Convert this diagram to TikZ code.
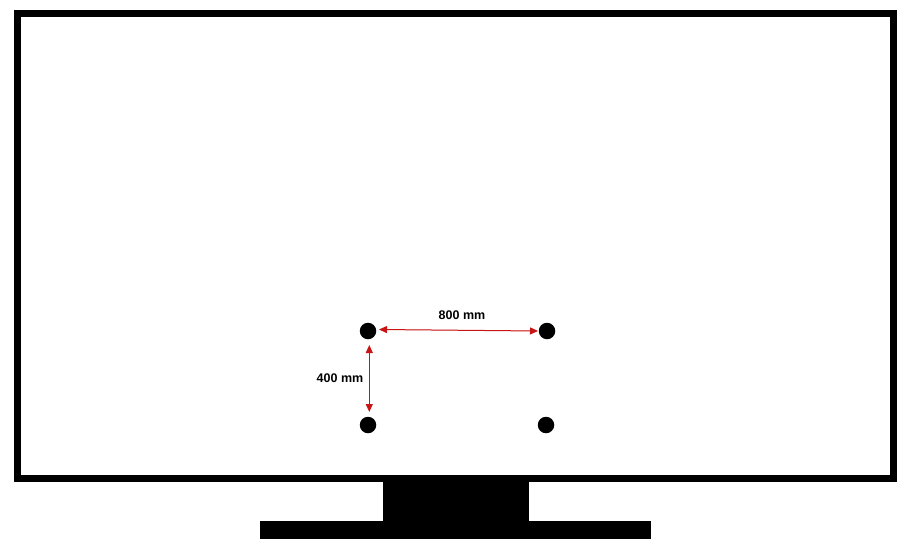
\documentclass[tikz,border=0pt]{standalone}
\usepackage{fontspec}
\setmainfont{Liberation Sans}
\usetikzlibrary{arrows.meta}
\definecolor{dimred}{RGB}{200,20,20}
\begin{document}
\begin{tikzpicture}[x=1pt,y=-1pt,
  hole/.style={circle,fill=black,inner sep=0pt,minimum size=16.5pt},
  dimline/.style={draw=dimred,line width=1pt,{Triangle[length=8pt,width=7pt]}-{Triangle[length=8pt,width=7pt]},fill=dimred},
  dimlabel/.style={font=\fontsize{12.5}{14}\selectfont\bfseries,inner sep=0pt}]
\useasboundingbox (0,0) rectangle (912,549);
% screen frame
\draw[line width=7pt] (17.5,13.5) rectangle (893,478.5);
% stand
\fill (383.3,482) rectangle (528.7,521.5);
\fill (260,521) rectangle (651,538.7);
% holes
\node[hole] (tl) at (368,331) {};
\node[hole] (tr) at (547,331) {};
\node[hole] (bl) at (368,425) {};
\node[hole] (br) at (546,425) {};
% dimensions
\coordinate (ha) at (379,329.5);
\coordinate (hb) at (538,331);
\coordinate (va) at (369.3,345);
\coordinate (vb) at (369.3,412);
\draw[dimline] (ha) -- (hb);
\draw[dimline] (va) -- (vb);
\node[dimlabel] (l800) at (462,315) {800 mm};
\node[dimlabel] (l400) at (340,378) {400 mm};
\end{tikzpicture}
\end{document}
